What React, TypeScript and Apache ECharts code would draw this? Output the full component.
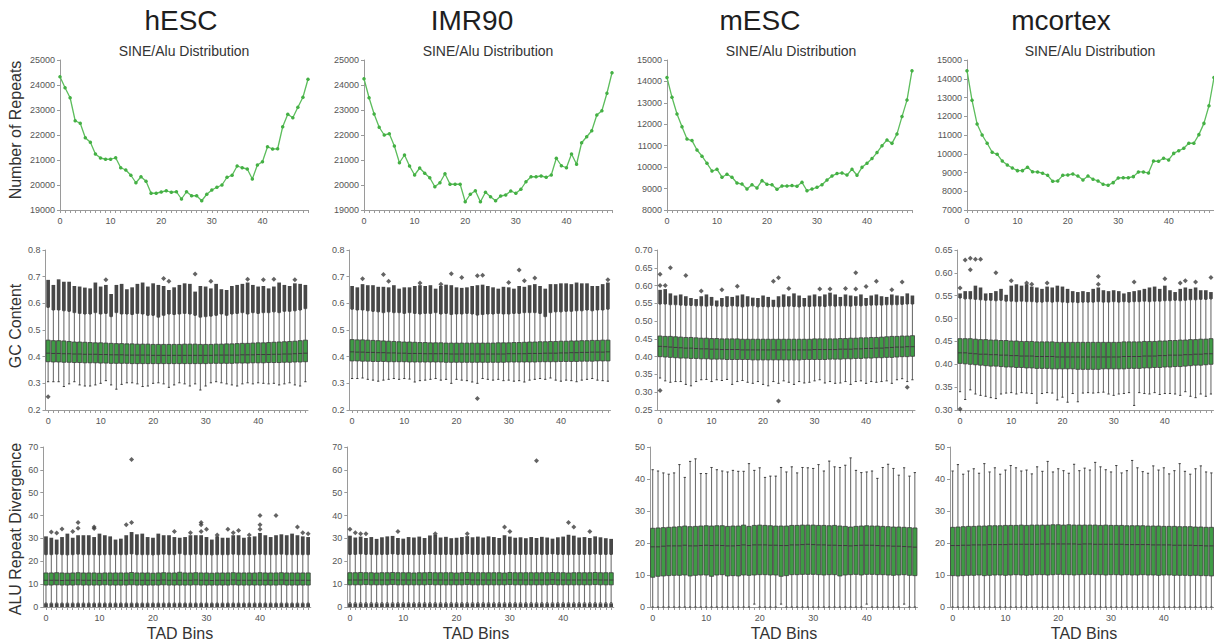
import React, { useEffect, useRef } from "react";
import * as echarts from "echarts";

const FONT = "'Liberation Sans', Arial, Helvetica, sans-serif";

const bins = ["0","1","2","3","4","5","6","7","8","9","10","11","12","13","14","15","16","17","18","19","20","21","22","23","24","25","26","27","28","29","30","31","32","33","34","35","36","37","38","39","40","41","42","43","44","45","46","47","48","49"];

const columnTitles = ["hESC", "IMR90", "mESC", "mcortex"];
const subTitle = "SINE/Alu Distribution";
const rowNames = ["Number of Repeats", "GC Content", "ALU Repeat Divergence"];
const xName = "TAD Bins";

// ---------- Row 1: number of repeats ----------
const hescCounts = [24330,23890,23490,22570,22470,21890,21710,21240,21080,21030,21030,21090,20690,20600,20390,20090,20330,20150,19670,19670,19720,19770,19710,19730,19440,19730,19570,19570,19370,19630,19800,19910,20000,20310,20390,20760,20690,20640,20240,20800,20930,21530,21440,21450,22330,22830,22690,23110,23510,24230];
const imr90Counts = [24250,23490,22840,22310,22000,22050,21560,20890,21200,20760,20400,20680,20470,20290,19930,20090,20450,20030,20030,20030,19330,19630,19770,19330,19710,19530,19370,19560,19600,19760,19670,19830,20130,20330,20330,20360,20310,20400,21070,20770,20690,21240,20830,21690,21930,22170,22800,22970,23670,24490];
const mescCounts = [14180,13260,12480,11890,11310,11240,10800,10510,10180,9820,9900,9530,9670,9530,9260,9210,8980,9180,9030,9370,9200,9180,8970,9120,9120,9140,9110,9290,8900,8980,9060,9180,9400,9590,9700,9730,9630,9900,9620,9990,10180,10400,10680,11000,11270,11110,11550,12360,13130,14500];
const mcortexCounts = [14430,12850,11590,11000,10560,10080,9970,9610,9400,9240,9100,9100,9280,9040,9030,8960,8850,8530,8550,8850,8870,8920,8810,8600,8810,8640,8550,8370,8320,8460,8710,8720,8720,8780,9030,9030,8970,9610,9600,9760,9670,10020,10160,10290,10560,10560,11020,11620,12560,14060];

// ---------- Row 2: GC content boxplots ----------
const gcHescLo = [0.306,0.306,0.306,0.288,0.298,0.306,0.294,0.29,0.29,0.294,0.3,0.31,0.294,0.278,0.296,0.302,0.302,0.298,0.288,0.29,0.3,0.302,0.298,0.285,0.294,0.302,0.298,0.29,0.298,0.275,0.29,0.302,0.306,0.302,0.298,0.294,0.29,0.298,0.302,0.298,0.302,0.3,0.298,0.3,0.294,0.298,0.302,0.294,0.29,0.306];
const gcHescQ1 = [0.381,0.38,0.38,0.379,0.379,0.378,0.378,0.377,0.377,0.377,0.376,0.376,0.375,0.375,0.375,0.375,0.374,0.374,0.374,0.374,0.374,0.374,0.374,0.374,0.374,0.374,0.374,0.374,0.374,0.374,0.374,0.375,0.375,0.375,0.375,0.375,0.376,0.376,0.376,0.377,0.377,0.377,0.378,0.378,0.378,0.379,0.379,0.38,0.38,0.381];
const gcHescMed = [0.413,0.412,0.412,0.411,0.411,0.41,0.41,0.409,0.409,0.409,0.408,0.408,0.407,0.407,0.407,0.406,0.406,0.406,0.406,0.406,0.405,0.405,0.405,0.405,0.405,0.405,0.405,0.405,0.405,0.405,0.405,0.405,0.406,0.406,0.406,0.406,0.406,0.407,0.407,0.407,0.408,0.408,0.408,0.409,0.409,0.41,0.41,0.411,0.412,0.413];
const gcHescQ3 = [0.462,0.46,0.46,0.459,0.457,0.455,0.455,0.454,0.453,0.452,0.452,0.451,0.45,0.449,0.449,0.448,0.448,0.447,0.447,0.447,0.446,0.446,0.446,0.446,0.446,0.446,0.447,0.447,0.447,0.446,0.446,0.446,0.447,0.447,0.448,0.448,0.449,0.45,0.45,0.451,0.452,0.452,0.453,0.454,0.455,0.456,0.457,0.458,0.46,0.462];
const gcHescHi = [0.585,0.575,0.575,0.572,0.57,0.565,0.562,0.56,0.56,0.565,0.56,0.562,0.55,0.565,0.56,0.56,0.558,0.562,0.56,0.555,0.555,0.548,0.555,0.56,0.558,0.56,0.562,0.56,0.555,0.548,0.55,0.552,0.555,0.56,0.555,0.56,0.562,0.565,0.56,0.565,0.562,0.565,0.565,0.568,0.565,0.57,0.57,0.572,0.575,0.58];
const gcHescTop = [0.688,0.669,0.69,0.681,0.681,0.665,0.663,0.659,0.656,0.678,0.663,0.669,0.635,0.669,0.673,0.653,0.66,0.673,0.678,0.663,0.675,0.669,0.665,0.65,0.66,0.669,0.675,0.673,0.644,0.665,0.663,0.656,0.673,0.653,0.65,0.665,0.669,0.673,0.678,0.669,0.663,0.665,0.656,0.663,0.678,0.669,0.665,0.675,0.673,0.669];
const gcHescOut = [[0,0.25],[11,0.688],[22,0.693],[23,0.683],[28,0.71],[31,0.683],[38,0.69],[41,0.688],[43,0.69],[47,0.688]];

const gcImrLo = [0.318,0.318,0.32,0.315,0.312,0.308,0.312,0.315,0.318,0.315,0.318,0.316,0.305,0.31,0.312,0.315,0.318,0.312,0.315,0.3,0.315,0.312,0.31,0.305,0.3,0.318,0.315,0.312,0.315,0.31,0.312,0.308,0.31,0.305,0.312,0.315,0.318,0.315,0.32,0.312,0.308,0.312,0.31,0.306,0.312,0.315,0.318,0.312,0.31,0.308];
const gcImrQ1 = [0.384,0.384,0.383,0.383,0.382,0.382,0.382,0.381,0.381,0.381,0.381,0.38,0.38,0.38,0.38,0.38,0.38,0.38,0.379,0.379,0.379,0.379,0.379,0.379,0.379,0.379,0.379,0.379,0.379,0.379,0.38,0.38,0.38,0.38,0.38,0.38,0.381,0.381,0.381,0.381,0.382,0.382,0.382,0.382,0.383,0.383,0.383,0.384,0.384,0.384];
const gcImrMed = [0.418,0.417,0.417,0.416,0.416,0.415,0.415,0.414,0.414,0.413,0.413,0.412,0.412,0.412,0.411,0.411,0.411,0.411,0.411,0.41,0.41,0.41,0.41,0.41,0.41,0.41,0.41,0.41,0.41,0.41,0.411,0.411,0.411,0.411,0.412,0.412,0.412,0.413,0.413,0.413,0.414,0.414,0.415,0.415,0.416,0.416,0.417,0.417,0.417,0.418];
const gcImrQ3 = [0.464,0.463,0.463,0.462,0.461,0.46,0.459,0.458,0.457,0.456,0.455,0.455,0.454,0.453,0.453,0.452,0.452,0.452,0.451,0.451,0.451,0.451,0.451,0.451,0.451,0.451,0.451,0.451,0.452,0.452,0.452,0.453,0.453,0.454,0.455,0.455,0.456,0.456,0.457,0.457,0.458,0.458,0.459,0.459,0.46,0.46,0.461,0.461,0.462,0.462];
const gcImrHi = [0.578,0.575,0.575,0.572,0.57,0.568,0.565,0.568,0.565,0.565,0.562,0.565,0.562,0.56,0.562,0.562,0.565,0.56,0.562,0.558,0.56,0.56,0.562,0.56,0.556,0.558,0.56,0.56,0.562,0.56,0.56,0.562,0.562,0.565,0.565,0.565,0.562,0.55,0.565,0.568,0.568,0.57,0.57,0.572,0.572,0.575,0.572,0.575,0.575,0.578];
const gcImrTop = [0.665,0.66,0.672,0.668,0.668,0.662,0.662,0.66,0.668,0.655,0.66,0.66,0.665,0.668,0.665,0.668,0.655,0.665,0.67,0.668,0.66,0.658,0.66,0.665,0.668,0.67,0.665,0.66,0.655,0.662,0.66,0.655,0.665,0.662,0.668,0.672,0.665,0.655,0.672,0.672,0.675,0.675,0.672,0.678,0.675,0.675,0.665,0.665,0.672,0.678];
const gcImrOut = [[2,0.692],[6,0.708],[7,0.683],[13,0.676],[17,0.672],[19,0.711],[21,0.697],[24,0.703],[24,0.243],[25,0.705],[30,0.678],[32,0.725],[33,0.685],[35,0.695],[49,0.688]];

const gcMescLo = [0.34,0.332,0.328,0.33,0.33,0.322,0.318,0.33,0.335,0.336,0.33,0.335,0.333,0.336,0.322,0.33,0.333,0.328,0.325,0.33,0.322,0.318,0.33,0.325,0.332,0.328,0.322,0.33,0.326,0.328,0.332,0.335,0.326,0.33,0.325,0.326,0.33,0.322,0.33,0.332,0.325,0.33,0.328,0.33,0.332,0.325,0.335,0.338,0.33,0.335];
const gcMescQ1 = [0.4,0.399,0.398,0.397,0.396,0.396,0.395,0.395,0.394,0.394,0.393,0.393,0.393,0.392,0.392,0.392,0.392,0.392,0.391,0.391,0.391,0.391,0.391,0.391,0.391,0.391,0.391,0.391,0.392,0.392,0.392,0.392,0.392,0.393,0.393,0.393,0.394,0.394,0.395,0.395,0.396,0.396,0.397,0.397,0.398,0.398,0.399,0.4,0.4,0.401];
const gcMescMed = [0.429,0.428,0.427,0.426,0.425,0.424,0.424,0.423,0.422,0.422,0.421,0.421,0.42,0.42,0.42,0.42,0.419,0.419,0.419,0.419,0.419,0.419,0.419,0.419,0.419,0.419,0.419,0.419,0.419,0.419,0.42,0.42,0.42,0.42,0.42,0.421,0.421,0.421,0.422,0.422,0.423,0.423,0.424,0.424,0.425,0.426,0.427,0.427,0.428,0.428];
const gcMescQ3 = [0.458,0.457,0.457,0.456,0.455,0.454,0.454,0.453,0.452,0.452,0.451,0.451,0.45,0.45,0.45,0.45,0.449,0.449,0.449,0.449,0.449,0.449,0.449,0.449,0.449,0.449,0.449,0.449,0.449,0.449,0.45,0.45,0.45,0.45,0.45,0.451,0.451,0.452,0.452,0.453,0.453,0.454,0.454,0.455,0.456,0.457,0.457,0.458,0.458,0.459];
const gcMescHi = [0.548,0.548,0.546,0.546,0.545,0.544,0.544,0.543,0.543,0.542,0.544,0.542,0.542,0.541,0.543,0.542,0.54,0.542,0.543,0.54,0.541,0.54,0.541,0.54,0.541,0.542,0.541,0.54,0.542,0.541,0.542,0.542,0.541,0.543,0.542,0.543,0.543,0.542,0.544,0.543,0.544,0.545,0.545,0.545,0.546,0.546,0.546,0.547,0.548,0.548];
const gcMescTop = [0.588,0.59,0.578,0.572,0.575,0.57,0.565,0.562,0.57,0.575,0.568,0.558,0.565,0.57,0.568,0.572,0.575,0.57,0.566,0.565,0.572,0.568,0.56,0.57,0.575,0.57,0.578,0.572,0.565,0.572,0.575,0.57,0.575,0.58,0.575,0.568,0.575,0.572,0.57,0.575,0.565,0.572,0.575,0.57,0.568,0.575,0.572,0.57,0.578,0.572];
const gcMescOut = [[0,0.632],[0,0.6],[0,0.305],[1,0.6],[2,0.65],[5,0.628],[8,0.585],[12,0.588],[15,0.598],[22,0.612],[23,0.622],[23,0.275],[25,0.592],[31,0.59],[33,0.59],[36,0.592],[38,0.636],[38,0.59],[40,0.597],[42,0.612],[45,0.588],[47,0.61],[48,0.314]];

const gcMctxLo = [0.34,0.323,0.344,0.335,0.332,0.33,0.327,0.325,0.335,0.337,0.338,0.335,0.338,0.337,0.336,0.315,0.336,0.338,0.337,0.322,0.328,0.317,0.336,0.318,0.337,0.338,0.337,0.338,0.339,0.335,0.332,0.335,0.336,0.338,0.31,0.338,0.336,0.335,0.338,0.334,0.336,0.336,0.335,0.332,0.34,0.33,0.327,0.335,0.33,0.335];
const gcMctxQ1 = [0.402,0.401,0.4,0.399,0.398,0.397,0.396,0.396,0.395,0.394,0.394,0.393,0.393,0.392,0.392,0.391,0.391,0.391,0.39,0.39,0.39,0.39,0.39,0.389,0.389,0.389,0.389,0.389,0.39,0.39,0.39,0.39,0.39,0.391,0.391,0.391,0.392,0.392,0.393,0.393,0.394,0.394,0.395,0.395,0.396,0.397,0.398,0.398,0.399,0.4];
const gcMctxMed = [0.425,0.425,0.424,0.423,0.422,0.422,0.421,0.421,0.42,0.42,0.419,0.419,0.418,0.418,0.418,0.417,0.417,0.417,0.417,0.416,0.416,0.416,0.416,0.416,0.416,0.416,0.416,0.416,0.416,0.416,0.416,0.416,0.417,0.417,0.417,0.417,0.418,0.418,0.418,0.419,0.419,0.42,0.42,0.42,0.421,0.421,0.422,0.422,0.423,0.423];
const gcMctxQ3 = [0.456,0.456,0.456,0.455,0.454,0.454,0.453,0.453,0.452,0.452,0.451,0.451,0.45,0.45,0.45,0.449,0.449,0.449,0.449,0.448,0.448,0.448,0.448,0.448,0.448,0.448,0.448,0.448,0.448,0.448,0.448,0.448,0.449,0.449,0.449,0.449,0.45,0.45,0.45,0.451,0.451,0.452,0.452,0.453,0.453,0.454,0.454,0.455,0.455,0.456];
const gcMctxHi = [0.545,0.543,0.543,0.542,0.541,0.54,0.54,0.539,0.54,0.538,0.538,0.537,0.538,0.537,0.537,0.536,0.536,0.537,0.536,0.537,0.536,0.535,0.536,0.535,0.536,0.536,0.536,0.537,0.536,0.536,0.537,0.536,0.537,0.536,0.537,0.537,0.538,0.537,0.538,0.538,0.539,0.539,0.54,0.539,0.54,0.541,0.541,0.542,0.542,0.543];
const gcMctxTop = [0.555,0.56,0.56,0.572,0.568,0.555,0.556,0.56,0.565,0.552,0.572,0.575,0.572,0.575,0.57,0.568,0.565,0.57,0.568,0.572,0.57,0.565,0.56,0.558,0.56,0.558,0.565,0.568,0.562,0.56,0.562,0.56,0.555,0.558,0.56,0.562,0.565,0.568,0.57,0.565,0.572,0.562,0.558,0.565,0.568,0.565,0.568,0.562,0.562,0.558];
const gcMctxOut = [[0,0.567],[0,0.302],[1,0.628],[2,0.632],[2,0.607],[3,0.63],[4,0.63],[7,0.6],[10,0.583],[13,0.578],[14,0.575],[17,0.578],[27,0.592],[27,0.575],[34,0.58],[40,0.587],[43,0.578],[44,0.583],[46,0.58],[49,0.59]];

// ---------- Row 3: ALU repeat divergence boxplots ----------
const aluHescLo = [1.7,1.7,1.7,1.7,1.7,1.7,1.7,1.7,1.7,1.7,1.7,1.7,1.7,1.7,1.7,1.7,1.7,1.7,1.7,1.7,1.7,1.7,1.7,1.7,1.7,1.7,1.7,1.7,1.7,1.7,1.7,1.7,1.7,1.7,1.7,1.7,1.7,1.7,1.7,1.7,1.7,1.7,1.7,1.7,1.7,1.7,1.7,1.7,1.7,1.7];
const aluHescQ1 = [9.6,9.6,9.7,9.6,9.6,9.6,9.7,9.6,9.6,9.6,9.6,9.7,9.6,9.6,9.6,9.6,9.7,9.6,9.6,9.6,9.6,9.6,9.7,9.6,9.6,9.6,9.6,9.6,9.7,9.6,9.6,9.6,9.6,9.6,9.6,9.7,9.6,9.6,9.6,9.6,9.6,9.6,9.6,9.6,9.7,9.6,9.6,9.6,9.6,9.6];
const aluHescMed = [11.7,11.7,11.7,11.6,11.7,11.7,11.8,11.7,11.7,11.7,11.6,11.7,11.7,11.7,11.7,11.7,11.8,11.7,11.7,11.7,11.7,11.7,11.8,11.7,11.7,11.7,11.7,11.7,11.8,11.7,11.7,11.6,11.7,11.7,11.7,11.8,11.7,11.7,11.7,11.7,11.7,11.7,11.7,11.7,11.8,11.7,11.7,11.7,11.7,11.7];
const aluHescQ3 = [14.9,14.9,15.0,14.9,14.8,14.9,15.0,14.9,14.9,14.9,14.8,14.9,14.9,14.9,14.9,14.9,15.1,14.9,14.9,14.9,14.8,14.9,15.0,14.9,14.9,15.2,14.9,14.9,15.0,14.9,14.9,14.8,14.9,14.9,14.9,15.0,14.9,14.9,14.9,14.9,15.0,14.9,14.9,14.9,15.0,14.9,14.9,14.9,14.9,14.9];
const aluHescHi = [22.9,22.9,23.1,22.9,22.8,22.9,23.1,22.9,22.9,22.9,22.8,22.9,22.9,22.9,22.9,22.9,23.2,22.9,22.9,22.9,22.8,22.9,23.1,22.9,22.9,23.3,22.9,22.9,23.1,22.9,22.9,22.8,22.9,22.9,22.9,23.1,22.9,22.9,22.9,22.9,23.1,22.9,22.9,22.9,23.1,22.9,22.9,22.9,22.9,22.9];
const aluHescTop = [30.9,30.3,29.5,30.6,32.1,30.3,31.4,31.4,31.4,30.6,32.1,31.4,30.9,29.5,29.9,31.4,32.8,31.8,32.1,30.6,30.3,32.1,31.4,31.4,30.6,30.3,30.6,31.4,31.4,31.4,30.6,29.5,30.9,30.3,30.3,31.4,31.4,30.3,30.6,30.9,32.4,31.4,30.6,31.4,31.8,31.4,32.1,31.4,30.9,30.6];
const aluHescLowCluster = 1.6;
const aluHescOut = [[1,32.8],[2,32.4],[3,34.1],[5,33],[6,37],[6,34.5],[9,35],[9,34.3],[15,36],[16,64.5],[16,37],[24,33],[27,32.5],[29,37],[29,36],[29,33],[30,34],[32,31.5],[34,34],[35,32.5],[36,33.5],[38,31.5],[40,40],[40,36],[40,34],[43,40],[47,35],[48,32.5],[49,32]];

const aluImrLo = [1.8,1.8,1.8,1.8,1.8,1.8,1.8,1.8,1.8,1.8,1.8,1.8,1.8,1.8,1.8,1.8,1.8,1.8,1.8,1.8,1.8,1.8,1.8,1.8,1.8,1.8,1.8,1.8,1.8,1.8,1.8,1.8,1.8,1.8,1.8,1.8,1.8,1.8,1.8,1.8,1.8,1.8,1.8,1.8,1.8,1.8,1.8,1.8,1.8,1.8];
const aluImrQ1 = [9.7,9.7,9.7,9.8,9.7,9.7,9.7,9.7,9.8,9.7,9.7,9.7,9.7,9.7,9.7,9.8,9.7,9.7,9.7,9.7,9.7,9.7,9.8,9.7,9.7,9.7,9.7,9.7,9.7,9.7,9.8,9.7,9.7,9.7,9.7,9.7,9.7,9.7,9.8,9.7,9.7,9.7,9.7,9.7,9.7,9.7,9.8,9.7,9.7,9.7];
const aluImrMed = [11.8,11.8,11.8,11.9,11.8,11.8,11.8,11.8,11.9,11.8,11.8,11.8,11.8,11.8,11.8,11.9,11.8,11.8,11.8,11.8,11.8,11.8,11.9,11.8,11.8,11.8,11.8,11.8,11.8,11.8,11.9,11.8,11.8,11.8,11.8,11.8,11.8,11.8,11.9,11.8,11.8,11.8,11.8,11.8,11.8,11.8,11.9,11.8,11.8,11.8];
const aluImrQ3 = [15.0,15.0,15.1,15.0,15.0,14.9,15.0,15.0,15.1,15.0,15.0,15.0,14.9,15.0,15.0,15.1,15.0,15.0,15.0,15.0,14.9,15.0,15.1,15.0,15.0,15.0,15.0,15.0,15.0,14.9,15.1,15.0,15.0,15.0,15.0,15.0,15.0,15.0,15.1,15.0,15.0,14.9,15.0,15.0,15.0,15.0,15.1,15.0,15.0,15.0];
const aluImrHi = [23.0,23.0,23.2,23.0,23.0,22.9,23.0,23.0,23.2,23.0,23.0,23.0,22.9,23.0,23.0,23.2,23.0,23.0,23.0,23.0,22.9,23.0,23.2,23.0,23.0,23.0,23.0,23.0,23.0,22.9,23.2,23.0,23.0,23.0,23.0,23.0,23.0,23.0,23.2,23.0,23.0,22.9,23.0,23.0,23.0,23.0,23.2,23.0,23.0,23.0];
const aluImrTop = [31.2,30.4,30.8,30.2,30.6,29.8,30.5,30.9,31.1,30.2,29.9,30.6,30.4,30.8,30.2,31.3,31.6,30.4,30.7,30.1,30.3,30.6,31.0,30.5,30.8,30.4,30.9,30.6,30.2,31.4,30.8,30.3,30.5,30.1,30.6,30.2,30.7,30.4,29.9,30.5,30.8,31.6,31.2,30.4,30.6,30.2,30.9,30.5,30.1,29.8];
const aluImrLowCluster = 1.6;
const aluImrOut = [[0,34],[1,32.5],[2,32],[3,32],[9,33],[16,32],[22,32],[29,35],[30,33],[35,64],[41,37],[42,35],[45,33]];

const aluMescLo = [0,0,0,0,0,0,0,0,0,0,0,0,0,0,0,0,0,0,0,0.9,0,0,0,0,0.9,0,0,0,0,0,0,0,0,0,0,0,0,0,0,0,0.9,0,0,0,0,0,0,0.9,0,0];
const aluMescQ1 = [9.3,9.6,9.7,9.8,9.9,9.9,10.0,9.7,9.9,10.0,10.0,9.6,10.0,10.1,9.7,9.8,9.7,10.0,9.9,10.0,10.1,10.1,10.0,10.0,9.6,9.8,10.1,10.1,10.2,10.2,10.2,10.1,10.0,10.1,10.1,9.7,10.0,10.1,10.2,10.0,10.2,10.2,10.1,10.1,10.0,9.9,10.0,10.1,9.9,9.8];
const aluMescMed = [18.8,18.8,19.0,19.1,19.1,19.1,19.3,19.1,19.1,19.2,19.3,19.2,19.3,19.2,19.1,19.1,19.2,19.4,19.2,19.4,19.4,19.4,19.3,19.3,19.2,19.2,19.4,19.4,19.5,19.6,19.5,19.4,19.4,19.3,19.3,19.2,19.2,19.1,19.2,19.3,19.3,19.3,19.2,19.1,19.1,19.0,19.0,18.9,18.8,18.7];
const aluMescQ3 = [24.6,24.7,24.8,24.9,25.0,25.1,25.3,25.1,25.2,25.3,25.4,25.3,25.4,25.4,25.2,25.3,25.3,25.6,25.2,25.5,25.6,25.5,25.4,25.3,25.3,25.3,25.5,25.5,25.6,25.6,25.6,25.5,25.5,25.4,25.5,25.3,25.2,25.0,25.2,25.3,25.4,25.3,25.3,25.2,25.1,25.0,25.0,24.9,24.8,24.7];
const aluMescHi = [42.9,42.5,41.9,41.5,41.9,44.5,40.5,45.5,46.3,41.7,41.7,43.6,42.9,42.5,42.2,42.7,42.4,42.4,44.8,42.7,43.5,40.5,40.9,40.9,43.6,42.2,43.8,41.9,43.6,43.5,43.3,44.5,42.5,45.6,43.8,43.6,44.3,46.6,42.7,42.0,42.2,42.5,40.2,43.6,44.6,43.3,41.2,43.5,40.9,42.0];

const aluMctxLo = [0,0,0,0,0,0,0,0,0,0,0,0,0,0,0,0,0,0,0,0,0,0,0,0,0,0,0,0,0,0,0,0,0,0,0,0,0,0,0,0,0,0,0,0,0,0,0,0,0,0];
const aluMctxQ1 = [9.8,9.7,9.8,9.9,9.9,10.0,9.8,9.9,10.0,10.0,9.9,10.0,10.1,10.0,9.9,10.0,10.1,10.1,10.0,10.1,10.2,10.1,10.1,10.0,10.1,10.1,10.2,10.1,10.1,10.0,10.1,10.1,10.0,10.1,10.0,10.0,10.1,10.0,10.0,9.9,10.0,10.0,9.9,9.9,9.9,9.8,9.9,9.8,9.8,9.7];
const aluMctxMed = [19.2,19.2,19.3,19.3,19.4,19.4,19.4,19.5,19.5,19.5,19.5,19.6,19.6,19.6,19.6,19.6,19.6,19.7,19.7,19.7,19.7,19.7,19.7,19.7,19.6,19.7,19.7,19.6,19.6,19.6,19.6,19.6,19.6,19.5,19.5,19.5,19.5,19.5,19.4,19.4,19.4,19.4,19.3,19.3,19.3,19.3,19.2,19.2,19.1,19.1];
const aluMctxQ3 = [24.9,25.0,25.1,25.2,25.2,25.3,25.3,25.4,25.4,25.4,25.5,25.5,25.5,25.6,25.5,25.6,25.6,25.6,25.6,25.7,25.7,25.6,25.7,25.6,25.6,25.6,25.6,25.6,25.5,25.6,25.5,25.5,25.5,25.4,25.4,25.4,25.4,25.3,25.3,25.3,25.2,25.2,25.2,25.1,25.1,25.1,25.0,25.0,24.9,24.9];
const aluMctxHi = [42.5,44.5,41.5,42.5,43.2,41.8,44.8,42.2,43.5,41.5,42.8,44.2,43.5,42.5,42.8,41.6,43.8,42.4,45.5,42.2,43.2,42.6,41.8,44.6,42.6,43.4,42.8,45.2,43.8,42.9,42.2,44.2,41.9,42.6,45.8,43.5,42.3,41.8,44.1,42.8,43.5,41.6,42.6,44.8,42.4,41.5,43.2,44.1,42.2,41.9];

// ---------- styling ----------
const AXIS = "#9a9a9a";
const LABEL = "#555555";
const LINE_GREEN = "#5cbd5c";
const BOX_GREEN = "#3f9b45";
const EDGE = "#3c3c3c";
const WHISK = "#707070";
const DENSE = "#474747";

// grid layout (pixels) [left, top, width, height]
const gridRects = [
  [60, 60, 248, 150], [364, 60, 248, 150], [667, 60, 245, 150], [967, 60, 247, 150],
  [45.5, 250, 262.5, 160], [349.5, 250, 261, 160], [657.5, 250, 257.5, 160], [957.5, 250, 256, 160],
  [43.3, 447, 267.5, 160], [347.3, 447, 266.5, 160], [650, 447, 267.5, 160], [950, 447, 265, 160],
];

function buildBox(lo, q1, med, q3, hi, top, lowCluster) {
  return bins.map((_, i) => [i, lo[i], q1[i], med[i], q3[i], hi[i], top ? top[i] : hi[i], lowCluster || 0]);
}

function renderBox(params, api) {
  const i = api.value(0);
  const lo = api.value(1), q1 = api.value(2), med = api.value(3), q3 = api.value(4), hi = api.value(5), top = api.value(6), lowTop = api.value(7);
  const band = api.size([1, 0])[0];
  const cx = api.coord([i, q1])[0];
  const yLo = api.coord([i, lo])[1];
  const yQ1 = api.coord([i, q1])[1];
  const yMed = api.coord([i, med])[1];
  const yQ3 = api.coord([i, q3])[1];
  const yHi = api.coord([i, hi])[1];
  const yTop = api.coord([i, top])[1];
  const bw = band * 0.8;
  const cw = band * 0.42;
  const dw = band * 0.7;
  const children: any[] = [];
  children.push({ type: "line", shape: { x1: cx, y1: yLo, x2: cx, y2: yHi }, style: { stroke: WHISK, lineWidth: 1.1 } });
  children.push({ type: "line", shape: { x1: cx - cw / 2, y1: yLo, x2: cx + cw / 2, y2: yLo }, style: { stroke: EDGE, lineWidth: 1 } });
  children.push({ type: "line", shape: { x1: cx - cw / 2, y1: yHi, x2: cx + cw / 2, y2: yHi }, style: { stroke: EDGE, lineWidth: 1 } });
  if (top > hi) {
    children.push({ type: "rect", shape: { x: cx - dw / 2, y: yTop, width: dw, height: yHi - yTop }, style: { fill: DENSE } });
  }
  if (lowTop > 0) {
    const y0 = api.coord([i, 0])[1];
    const yl = api.coord([i, lowTop])[1];
    children.push({ type: "rect", shape: { x: cx - dw / 2, y: yl, width: dw, height: y0 - yl }, style: { fill: DENSE } });
  }
  children.push({ type: "rect", shape: { x: cx - bw / 2, y: yQ3, width: bw, height: yQ1 - yQ3 }, style: { fill: BOX_GREEN, stroke: EDGE, lineWidth: 0.8 } });
  children.push({ type: "line", shape: { x1: cx - bw / 2, y1: yMed, x2: cx + bw / 2, y2: yMed }, style: { stroke: EDGE, lineWidth: 1 } });
  return { type: "group", children };
}

function xAxisFor(gridIndex, boundaryGap) {
  return {
    type: "category", gridIndex, data: bins, boundaryGap,
    axisLine: { show: true, lineStyle: { color: AXIS, width: 1 } },
    axisTick: { show: true, interval: 0, alignWithLabel: true, length: 3, lineStyle: { color: AXIS } },
    axisLabel: { interval: 9, fontSize: 9, color: LABEL, margin: 6, fontFamily: FONT },
    splitLine: { show: false },
  };
}

function yAxisFor(gridIndex, min, max, interval, digits) {
  return {
    type: "value", gridIndex, min, max, interval,
    axisLine: { show: true, lineStyle: { color: AXIS, width: 1 } },
    axisTick: { show: true, length: 3, lineStyle: { color: AXIS } },
    axisLabel: {
      fontSize: 9, color: LABEL, margin: 5, fontFamily: FONT,
      formatter: (v) => (digits === 0 ? String(Math.round(v)) : Number(v).toFixed(digits)),
    },
    splitLine: { show: false },
  };
}

export default function App() {
  const ref = useRef<HTMLDivElement>(null);
  useEffect(() => {
    if (!ref.current) return;
    const chart = echarts.init(ref.current, undefined, { renderer: "svg" });

    const grids = gridRects.map(([left, top, width, height]) => ({ left, top, width, height }));
    const xAxes = gridRects.map((_, g) => xAxisFor(g, g >= 4));
    const yAxes = [
      yAxisFor(0, 19000, 25000, 1000, 0), yAxisFor(1, 19000, 25000, 1000, 0),
      yAxisFor(2, 8000, 15000, 1000, 0), yAxisFor(3, 7000, 15000, 1000, 0),
      yAxisFor(4, 0.2, 0.8, 0.1, 1), yAxisFor(5, 0.2, 0.8, 0.1, 1),
      yAxisFor(6, 0.25, 0.7, 0.05, 2), yAxisFor(7, 0.3, 0.65, 0.05, 2),
      yAxisFor(8, 0, 70, 10, 0), yAxisFor(9, 0, 70, 10, 0),
      yAxisFor(10, 0, 50, 10, 0), yAxisFor(11, 0, 50, 10, 0),
    ];

    const lineData = [hescCounts, imr90Counts, mescCounts, mcortexCounts];
    const lineSeries = lineData.map((d, g) => ({
      type: "line", xAxisIndex: g, yAxisIndex: g, data: d,
      symbol: "circle", symbolSize: 3.5, showSymbol: true, showAllSymbol: true,
      lineStyle: { color: LINE_GREEN, width: 1.3 },
      itemStyle: { color: "#44b044" },
      clip: false,
    }));

    const boxSets = [
      buildBox(gcHescLo, gcHescQ1, gcHescMed, gcHescQ3, gcHescHi, gcHescTop, 0),
      buildBox(gcImrLo, gcImrQ1, gcImrMed, gcImrQ3, gcImrHi, gcImrTop, 0),
      buildBox(gcMescLo, gcMescQ1, gcMescMed, gcMescQ3, gcMescHi, gcMescTop, 0),
      buildBox(gcMctxLo, gcMctxQ1, gcMctxMed, gcMctxQ3, gcMctxHi, gcMctxTop, 0),
      buildBox(aluHescLo, aluHescQ1, aluHescMed, aluHescQ3, aluHescHi, aluHescTop, aluHescLowCluster),
      buildBox(aluImrLo, aluImrQ1, aluImrMed, aluImrQ3, aluImrHi, aluImrTop, aluImrLowCluster),
      buildBox(aluMescLo, aluMescQ1, aluMescMed, aluMescQ3, aluMescHi, null, 0),
      buildBox(aluMctxLo, aluMctxQ1, aluMctxMed, aluMctxQ3, aluMctxHi, null, 0),
    ];
    const boxSeries = boxSets.map((d, k) => ({
      type: "custom", xAxisIndex: k + 4, yAxisIndex: k + 4, data: d,
      renderItem: renderBox,
      encode: { x: 0, y: [1, 5, 6] },
    }));

    const outSets = [gcHescOut, gcImrOut, gcMescOut, gcMctxOut, aluHescOut, aluImrOut];
    const outSeries = outSets.map((d, k) => ({
      type: "scatter", xAxisIndex: k + 4, yAxisIndex: k + 4, data: d,
      symbol: "diamond", symbolSize: 5,
      itemStyle: { color: EDGE },
      z: 5,
    }));

    const titleX = [181, 472, 760, 1061];
    const subX = [184, 488, 791, 1090];
    const tadX = [180, 476, 784, 1084];
    const rowY = [130, 326, 529];

    const graphic: any[] = [];
    columnTitles.forEach((t, i) => graphic.push({
      type: "text", x: titleX[i], y: 20,
      style: { text: t, font: `28px ${FONT}`, fill: "#1e1e1e", align: "center", verticalAlign: "middle" },
    }));
    subX.forEach((x) => graphic.push({
      type: "text", x, y: 51,
      style: { text: subTitle, font: `14px ${FONT}`, fill: "#333333", align: "center", verticalAlign: "middle" },
    }));
    rowNames.forEach((t, i) => graphic.push({
      type: "text", x: 15, y: rowY[i], rotation: Math.PI / 2,
      style: { text: t, font: `16px ${FONT}`, fill: "#333333", align: "center", verticalAlign: "middle" },
    }));
    tadX.forEach((x) => graphic.push({
      type: "text", x, y: 633,
      style: { text: xName, font: `16px ${FONT}`, fill: "#333333", align: "center", verticalAlign: "middle" },
    }));

    chart.setOption({
      animation: false,
      backgroundColor: "#ffffff",
      grid: grids,
      xAxis: xAxes,
      yAxis: yAxes,
      series: [...lineSeries, ...boxSeries, ...outSeries],
      graphic,
    });
    return () => chart.dispose();
  }, []);
  return <div ref={ref} style={{ position: "fixed", left: 0, top: 0, width: 1214, height: 642 }} />;
}
